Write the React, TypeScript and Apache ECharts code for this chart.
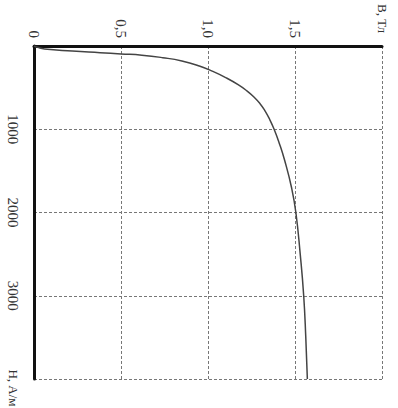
import React, { useEffect, useRef } from "react";
import * as echarts from "echarts";

// Magnetization curve B(H)
const fieldH = [0, 15, 35, 60, 80, 95, 110, 140, 180, 240, 305, 380, 465, 540, 612, 690, 770, 880, 1000, 1170, 1370, 1700, 2000, 2500, 3000, 3500, 4000]; // A/m
const inductionB = [0, 0.02, 0.06, 0.22, 0.38, 0.5, 0.62, 0.74, 0.85, 0.95, 1.028, 1.102, 1.173, 1.224, 1.264, 1.298, 1.325, 1.354, 1.38, 1.41, 1.44, 1.48, 1.505, 1.53, 1.55, 1.562, 1.571]; // T
const bTicks = [0, 0.5, 1.0, 1.5, 2.0];
const hTicks = [0, 1000, 2000, 3000, 4000];
const bName = "B, Тл";
const hName = "H, А/м";

export default function App() {
  const ref = useRef<HTMLDivElement>(null);
  useEffect(() => {
    if (!ref.current) return;
    const chart = echarts.init(ref.current, undefined, { renderer: "svg" });
    const font = "Liberation Serif";
    const grid = { type: [3, 2], color: "#777", width: 1 };
    chart.setOption({
      animation: false,
      backgroundColor: "#ffffff",
      grid: { left: 34, top: 46, width: 348, height: 333, outerBoundsMode: "none", containLabel: false },
      xAxis: {
        type: "value",
        position: "top",
        min: bTicks[0],
        max: bTicks[bTicks.length - 1],
        interval: 0.5,
        axisLine: { show: true, lineStyle: { color: "#111", width: 3 } },
        axisTick: { show: false },
        splitLine: { show: true, lineStyle: grid },
        axisLabel: {
          rotate: -90,
          margin: 8,
          color: "#333",
          fontFamily: font,
          fontSize: 15,
          formatter: (v: number) =>
            v === 2 ? `{n|${bName}}` : v === 0 ? "0" : v.toFixed(1).replace(".", ","),
          rich: { n: { padding: [0, 5, 0, 0], fontFamily: font, fontSize: 13, color: "#333" } },
        },
      },
      yAxis: {
        type: "value",
        inverse: true,
        position: "left",
        min: hTicks[0],
        max: hTicks[hTicks.length - 1],
        interval: 1000,
        axisLine: { show: true, lineStyle: { color: "#111", width: 3 } },
        axisTick: { show: false },
        splitLine: { show: true, lineStyle: grid },
        axisLabel: {
          rotate: -90,
          margin: 14,
          color: "#333",
          fontFamily: font,
          fontSize: 15,
          formatter: (v: number) =>
            v === 0 ? "" : v === 4000 ? `{n|${hName}}` : String(v),
          rich: { n: { padding: [0, 0, 0, 18], fontFamily: font, fontSize: 13, color: "#333" } },
        },
      },
      series: [
        {
          type: "line",
          data: fieldH.map((h, i) => [inductionB[i], h]),
          showSymbol: false,
          smooth: 0.5,
          lineStyle: { color: "#444", width: 1.5 },
        },
      ],
    });
    return () => chart.dispose();
  }, []);
  return (
    <div
      ref={ref}
      style={{ position: "fixed", left: 0, top: 0, width: 398, height: 408 }}
    />
  );
}
